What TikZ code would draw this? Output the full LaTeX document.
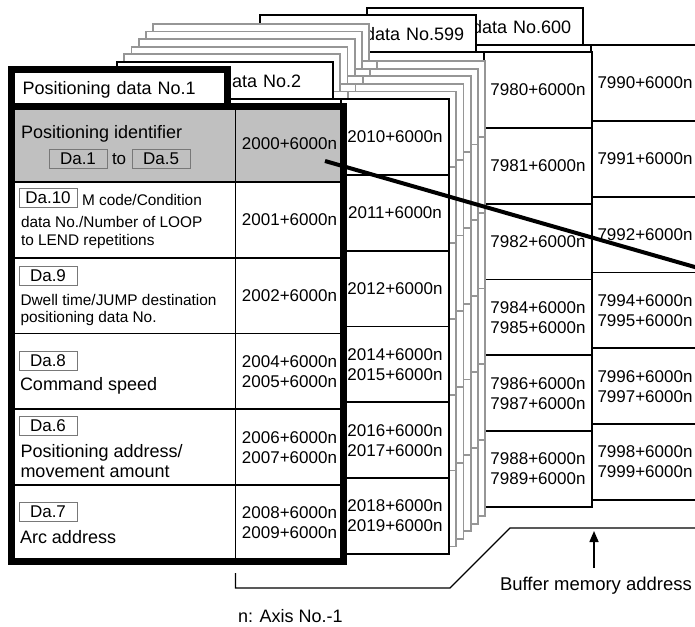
\documentclass[tikz,border=0pt]{standalone}
\usepackage{fontspec}
\setmainfont{Liberation Sans}
\usetikzlibrary{arrows.meta, positioning}

\definecolor{cellgray}{RGB}{192,192,192}
\definecolor{stackgray}{RGB}{150,150,150}
\definecolor{dagray}{RGB}{120,120,120}

\begin{document}
\begin{tikzpicture}[
  x=1pt, y=-1pt,
  every node/.style={inner sep=0pt, outer sep=0pt},
  tabbox/.style={draw, fill=white, line width=1.8pt, anchor=north west,
    minimum width=216pt, minimum height=37pt, inner xsep=11pt, text width=194pt,
    text depth=0pt, align=left, font=\fontsize{18}{21}\selectfont},
  bodybox/.style={draw, fill=white, line width=1.8pt, anchor=north west,
    minimum width=332pt, minimum height=455pt},
  rowline/.style={line width=1.8pt},
  addr/.style={align=center, font=\fontsize{17}{20}\selectfont},
  itemtext/.style={anchor=base west, font=\fontsize{18}{20}\selectfont},
  smalltext/.style={anchor=base west, font=\fontsize{15.4}{18}\selectfont},
  dabox/.style={draw=dagray, line width=0.9pt, minimum width=58pt, minimum height=19pt,
    font=\fontsize{17}{20}\selectfont},
  >={Triangle[length=11pt, width=9pt]}
]
\clip (0,0) rectangle (695,626);

% Positioning data No.600 (back)
\node[tabbox] (tab600) at (367,8) {Positioning data No.600};
\node[bodybox] (body600) at (tab600.south west) {};
\draw[rowline] ([xshift=224pt]body600.north west) -- ([xshift=224pt]body600.south west);
\foreach \v [count=\r] in {7990+6000n, 7991+6000n, 7992+6000n,
    {7994+6000n\\7995+6000n}, {7996+6000n\\7997+6000n}, {7998+6000n\\7999+6000n}} {
  \draw[rowline] ([yshift=-75.83pt*\r]body600.north west) -- ++(332,0);
  \node[addr] (a600-\r) at ([xshift=278pt, yshift={-75.83pt*(\r-0.5)}]body600.north west) {\v};
}

% Positioning data No.599
\node[tabbox] (tab599) at (260,15) {Positioning data No.599};
\node[bodybox] (body599) at (tab599.south west) {};
\draw[rowline] ([xshift=224pt]body599.north west) -- ([xshift=224pt]body599.south west);
\foreach \v [count=\r] in {7980+6000n, 7981+6000n, 7982+6000n,
    {7984+6000n\\7985+6000n}, {7986+6000n\\7987+6000n}, {7988+6000n\\7989+6000n}} {
  \draw[rowline] ([yshift=-75.83pt*\r]body599.north west) -- ++(332,0);
  \node[addr] (a599-\r) at ([xshift=278pt, yshift={-75.83pt*(\r-0.5)}]body599.north west) {\v};
}

% the stack between No.2 and No.599
\foreach \k in {5,4,...,1} {
  \node[tabbox, draw=stackgray] (tabL\k) at ({117+7.2*\k},{62-7.6*\k}) {};
  \node[bodybox, draw=stackgray] (bodyL\k) at (tabL\k.south west) {};
  \draw[rowline, stackgray] ([xshift=224pt]bodyL\k.north west) -- ([xshift=224pt]bodyL\k.south west);
  \foreach \r in {1,...,5}
    \draw[rowline, stackgray] ([yshift=-75.83pt*\r]bodyL\k.north west) -- ++(332,0);
}

% Positioning data No.2
\node[tabbox] (tab2) at (117,62) {Positioning data No.2};
\node[bodybox] (body2) at (tab2.south west) {};
\draw[rowline] ([xshift=224pt]body2.north west) -- ([xshift=224pt]body2.south west);
\foreach \v [count=\r] in {2010+6000n, 2011+6000n, 2012+6000n,
    {2014+6000n\\2015+6000n}, {2016+6000n\\2017+6000n}, {2018+6000n\\2019+6000n}} {
  \draw[rowline] ([yshift=-75.83pt*\r]body2.north west) -- ++(332,0);
  \node[addr] (a2-\r) at ([xshift=278pt, yshift={-75.83pt*(\r-0.5)}]body2.north west) {\v};
}

% Positioning data No.1 (front, heavy frame)
\node[tabbox, line width=7pt] (tab1) at (11.5,69) {Positioning data No.1};
\node[bodybox, draw=none] (body1) at (tab1.south west) {};
\fill[cellgray] (body1.north west) rectangle ([yshift=-75.83pt]body1.north east);
\draw[rowline] ([xshift=224pt]body1.north west) -- ([xshift=224pt]body1.south west);
\foreach \v [count=\r] in {2000+6000n, 2001+6000n, 2002+6000n,
    {2004+6000n\\2005+6000n}, {2006+6000n\\2007+6000n}, {2008+6000n\\2009+6000n}} {
  \draw[rowline] ([yshift=-75.83pt*\r]body1.north west) -- ++(332,0);
  \node[addr] (a1-\r) at ([xshift=278pt, yshift={-75.83pt*(\r-0.5)}]body1.north west) {\v};
}
\draw[line width=7pt] (body1.north west) rectangle (body1.south east);

% item names of No.1
\node[itemtext] (pid) at (21,138) {Positioning identifier};
\node[dabox] (da1) at (78,159) {Da.1};
\node[font=\fontsize{17}{20}\selectfont] (upto) [right=5pt of da1] {to};
\node[dabox] (da5) [right=6pt of upto] {Da.5};

\node[dabox] (da10) at (48,198) {Da.10};
\node[smalltext] (mcode) at (82,205) {M code/Condition};
\node[smalltext] (mcode2) at (21,227) {data No./Number of LOOP};
\node[smalltext] (mcode3) at (21,245) {to LEND repetitions};

\node[dabox] (da9) at (48,275.5) {Da.9};
\node[smalltext] (dwell) at (20.5,305) {Dwell time/JUMP destination};
\node[smalltext] (dwell2) at (20.5,322) {positioning data No.};

\node[dabox] (da8) at (48,361) {Da.8};
\node[itemtext] (cspeed) at (20,390) {Command speed};

\node[dabox] (da6) at (48,425.5) {Da.6};
\node[itemtext] (paddr) at (20.5,457) {Positioning address/};
\node[itemtext] (paddr2) at (20.5,477) {movement amount};

\node[dabox] (da7) at (48,512) {Da.7};
\node[itemtext] (arcaddr) at (20,543) {Arc address};

% pointer out of the identifier cell
\coordinate (ptr0) at (325,161);
\coordinate (ptr1) at (700,268.5);
\draw[line width=4pt] (ptr0) -- (ptr1);

% buffer memory address bracket
\draw[line width=1.2pt] (235.5,573) -- (235.5,588) -- (450,588) -- (510,528) -- (700,528);
\node[itemtext, font=\fontsize{18.5}{20}\selectfont] (bufaddr) at (500,590) {Buffer memory address};
\coordinate (buftail) at (594,568);
\coordinate (buftip) at (594,531);
\draw[->, line width=1.6pt] (buftail) -- (buftip);

\node[itemtext] (axisnote) at (238,622) {n: Axis No.-1};
\end{tikzpicture}
\end{document}
